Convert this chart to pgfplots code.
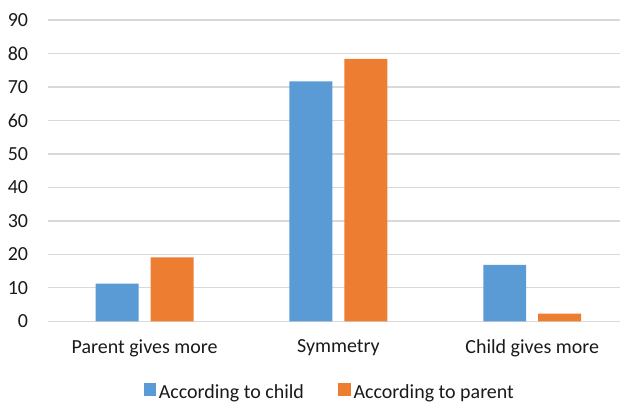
\documentclass[border=0pt]{standalone}
\usepackage{pgfplots}
\pgfplotsset{compat=1.18}
\usepackage{fontspec}
\setmainfont{Carlito}
\definecolor{cblue}{HTML}{5B9BD5}
\definecolor{corange}{HTML}{ED7D31}
\definecolor{cgrid}{HTML}{D9D9D9}
\definecolor{ctext}{HTML}{1A1A1A}
\begin{document}
\begin{tikzpicture}
\begin{axis}[
  scale only axis,
  width=573.3pt, height=301.7pt,
  xmin=-0.5, xmax=2.455,
  ymin=0, ymax=90,
  ytick={0,10,...,90},
  xtick={0,1,2},
  xticklabels={Parent gives more, Symmetry, Child gives more},
  axis line style={draw=none},
  major tick length=0pt,
  ymajorgrids,
  major grid style={cgrid, line width=1.2pt},
  /pgf/number format/assume math mode=true,
  tick label style={font=\fontsize{20pt}{24pt}\selectfont, text=ctext},
  yticklabel style={anchor=east, inner sep=0pt, xshift=-19.4pt},
  xticklabel style={anchor=north, inner sep=0pt, yshift=-18pt},
  legend style={at={(0.5,0)}, anchor=north, yshift=-59pt, xshift=-4pt, draw=none,
    font=\fontsize{20pt}{24pt}\selectfont, text=ctext, legend columns=2,
    nodes={inner sep=2.5pt},
    /tikz/every even column/.append style={column sep=32pt}},
  legend image code/.code={\fill[#1] (0pt,-3pt) rectangle (12.7pt,9.7pt);},
  clip=false,
]
\addplot[ybar, bar width=43pt, bar shift=-27.5pt, fill=cblue, draw=none]
  coordinates {(0,11.3) (1,71.7) (2,16.9)};
\addlegendentry{According to child}
\addplot[ybar, bar width=43pt, bar shift=27.5pt, fill=corange, draw=none]
  coordinates {(0,19.1) (1,78.4) (2,2.3)};
\addlegendentry{According to parent}
\end{axis}
\useasboundingbox ([xshift=-47.7pt,yshift=-80.3pt]current axis.south west) rectangle ([yshift=20pt]current axis.north east);
\end{tikzpicture}
\end{document}
